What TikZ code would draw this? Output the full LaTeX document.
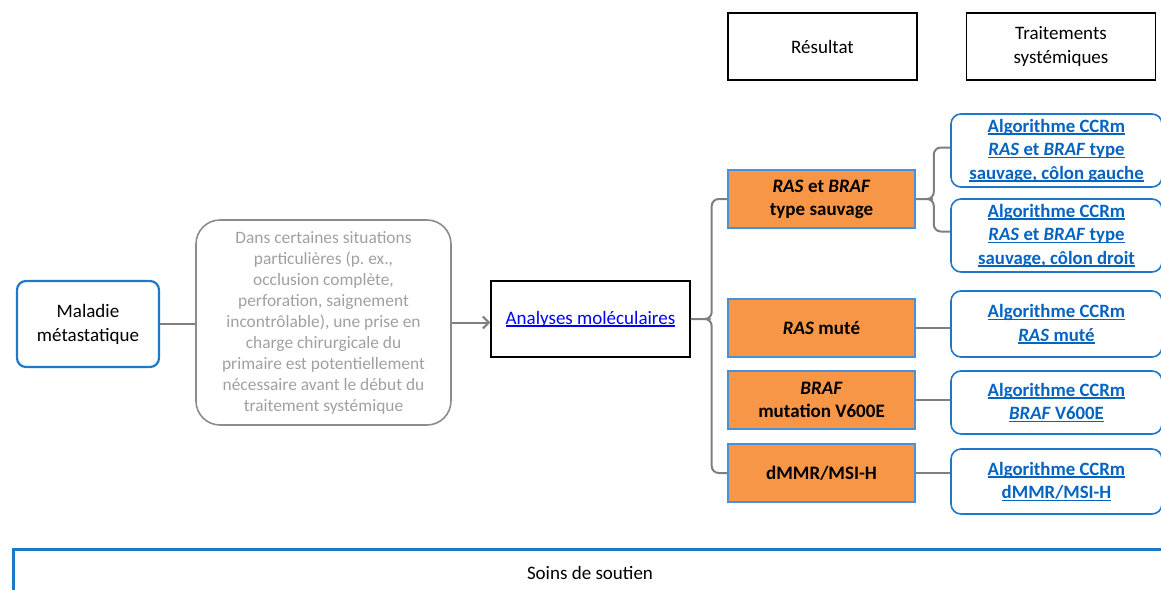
\documentclass[tikz,border=0pt]{standalone}
\usepackage{fontspec}
\setmainfont{Carlito}
\usetikzlibrary{arrows.meta}

\definecolor{frameblue}{HTML}{1F77C8}
\definecolor{linkblue}{HTML}{0563C1}
\definecolor{pureblue}{HTML}{0000FF}
\definecolor{orangefill}{HTML}{F79646}
\definecolor{orangeedge}{HTML}{4A90D9}
\definecolor{connector}{HTML}{7F7F7F}
\definecolor{greytext}{HTML}{A0A0A0}
\definecolor{greyedge}{HTML}{8C8C8C}

\tikzset{
  base/.style={align=center, inner sep=0pt},
  header/.style={base, draw=black, line width=1.4pt, minimum width=189pt, minimum height=67pt,
    font=\fontsize{19}{24}\selectfont},
  startbox/.style={base, draw=frameblue, line width=2.2pt, rounded corners=9pt,
    minimum width=142pt, minimum height=86pt, font=\fontsize{19}{24}\selectfont},
  notebox/.style={base, draw=greyedge, line width=1.6pt, rounded corners=24pt,
    minimum width=255pt, minimum height=205pt, text=greytext, font=\fontsize{17.4}{21}\selectfont},
  testbox/.style={base, draw=black, line width=1.4pt, minimum width=199pt, minimum height=76pt,
    font=\fontsize{19}{22}\selectfont},
  resultbox/.style={base, draw=orangeedge, fill=orangefill, line width=1.6pt,
    minimum width=187pt, minimum height=58pt, font=\bfseries\fontsize{19}{23}\selectfont},
  algobox/.style={base, draw=frameblue, line width=1.6pt, rounded corners=10pt,
    minimum width=211pt, text=linkblue, font=\bfseries\fontsize{18.8}{23.5}\selectfont},
  link/.style={draw=connector, line width=2pt},
  bracket/.style={link, rounded corners=7pt},
}

% underlined hyperlink-style text
\newcommand{\lk}[1]{\setbox0\hbox{#1}\rlap{\rule[-2.6pt]{\wd0}{1.2pt}}\box0}

\begin{document}
\begin{tikzpicture}[x=1pt, y=-1pt]
  \useasboundingbox (0,0) rectangle (1161,589);

  % column headers
  \node[header] (hres) at (822.5,46.5) {Résultat};
  \node[header] (htrt) at (1061,46.5) {Traitements\\systémiques};

  % main flow
  \node[startbox] (mal) at (88,324) {Maladie\\métastatique};
  \node[notebox] (note) at (323.5,322.5) {Dans certaines situations\\particulières (p.\ ex.,\\occlusion complète,\\perforation, saignement\\incontrôlable), une prise en\\charge chirurgicale du\\primaire est potentiellement\\nécessaire avant le début du\\traitement systémique};
  \node[testbox] (ana) at (590.5,319) {\textcolor{pureblue}{\lk{Analyses moléculaires}}};

  % molecular results
  \node[resultbox] (wt)   at (821.5,199) {\textit{RAS} et \textit{BRAF}\\type sauvage};
  \node[resultbox] (ras)  at (821.5,328) {\textit{RAS} muté};
  \node[resultbox] (braf) at (821.5,400) {\textit{BRAF}\\mutation V600E};
  \node[resultbox] (msi)  at (821.5,473) {dMMR/MSI-H};

  % treatment algorithms
  \node[algobox, minimum height=73pt] (a1) at (1056.5,150.5)
    {\lk{Algorithme CCRm}\\\lk{\textit{RAS} et \textit{BRAF} type}\\\lk{sauvage, côlon gauche}};
  \node[algobox, minimum height=73pt] (a2) at (1056.5,235.5)
    {\lk{Algorithme CCRm}\\\lk{\textit{RAS} et \textit{BRAF} type}\\\lk{sauvage, côlon droit}};
  \node[algobox, minimum height=66pt] (a3) at (1056.5,324)
    {\lk{Algorithme CCRm}\\\lk{\textit{RAS} muté}};
  \node[algobox, minimum height=63pt] (a4) at (1056.5,402.5)
    {\lk{Algorithme CCRm}\\\lk{\textit{BRAF} V600E}};
  \node[algobox, minimum height=65pt] (a5) at (1056.5,481.5)
    {\lk{Algorithme CCRm}\\\lk{dMMR/MSI-H}};

  % supportive care band
  \node[base, draw=frameblue, line width=3pt, anchor=north west, minimum width=1160pt,
        minimum height=60pt] (soins) at (12,548) {};
  \node[base, font=\fontsize{19}{22}\selectfont] (soinstxt) at (590,573) {Soins de soutien};

  % connectors
  \draw[link] (mal.east) -- (mal.east -| note.west);
  \draw[link, -{Straight Barb[length=6pt, width=12pt]}] (note.east) -- (note.east -| ana.west);

  \draw[bracket] (ana.east) -- ([xshift=21pt]ana.east) |- (wt.west);
  \draw[bracket] ([xshift=20pt]ana.east) -- ([xshift=21pt]ana.east) |- (msi.west);

  \draw[bracket] (wt.east) -- ([xshift=18pt]wt.east) |- ([yshift=3pt]a1.west);
  \draw[bracket] ([xshift=17pt]wt.east) -- ([xshift=18pt]wt.east) |- ([yshift=4pt]a2.west);

  \draw[link] (ras.east) -- (ras.east -| a3.west);
  \draw[link] (braf.east) -- (braf.east -| a4.west);
  \draw[link] (msi.east) -- (msi.east -| a5.west);
\end{tikzpicture}
\end{document}
